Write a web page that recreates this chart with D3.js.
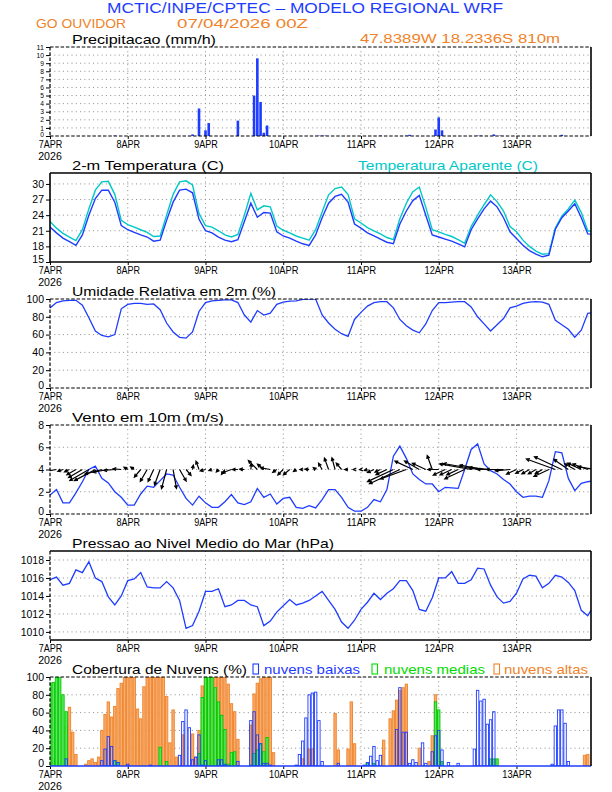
<!DOCTYPE html>
<html lang="pt">
<head>
<meta charset="utf-8">
<title>Meteograma WRF - GO Ouvidor</title>
<script src="https://cdn.jsdelivr.net/npm/d3@7"></script>
<style>
  body { margin: 0; background: #fff; }
  svg { display: block; }
  text { font-family: "Liberation Sans", Arial, sans-serif; }
</style>
</head>
<body>
<script>
// ---- dados (hora 0 = 07/04/2026 00Z) ------------------------------------------
const diasLabels = ["7APR", "8APR", "9APR", "10APR", "11APR", "12APR", "13APR"];
const diasHoras = [0, 24, 48, 72, 96, 120, 144];
const ano = "2026";

// series de linha, a cada 2 horas (0, 2, ..., 168)
const horas2 = d3.range(0, 169, 2);

const temp2m = [
  21.7, 20.6, 19.6, 18.9, 18.2, 20.2, 24.0, 27.2, 28.8, 28.8, 26.5, 22.0,
  21.2, 20.7, 20.2, 19.8, 19.0, 19.2, 23.0, 26.5, 28.8, 29.0, 28.3, 23.2,
  21.0, 20.6, 19.8, 19.2, 18.9, 19.3, 22.8, 26.3, 23.6, 24.5, 24.4, 20.8,
  20.0, 19.6, 19.0, 18.5, 18.2, 20.2, 23.5, 26.3, 27.6, 28.0, 26.5, 22.3,
  21.5, 20.6, 20.0, 19.4, 18.8, 18.5, 22.3, 24.8, 26.8, 27.8, 24.0, 20.2,
  19.8, 19.4, 19.0, 18.5, 17.9, 21.2, 23.3, 25.2, 26.7, 25.6, 23.5, 20.8,
  19.5, 18.2, 17.2, 16.5, 16.0, 16.3, 21.3, 23.5, 24.8, 26.2, 23.5, 20.4,
  20.3
];
const tempAparente = [
  22.8, 21.5, 20.5, 19.8, 19.1, 21.2, 25.2, 28.8, 30.4, 30.5, 28.0, 23.0,
  22.2, 21.7, 21.2, 20.7, 19.9, 20.0, 24.0, 28.0, 30.4, 30.6, 29.8, 24.3,
  22.0, 21.7, 21.0, 20.2, 19.8, 20.3, 24.0, 28.2, 25.0, 25.8, 25.6, 21.9,
  21.1, 20.6, 20.0, 19.6, 19.2, 21.2, 24.6, 27.9, 29.1, 29.4, 28.0, 23.3,
  22.5, 21.6, 21.0, 20.4, 19.7, 19.3, 23.3, 26.3, 28.5, 29.4, 25.5, 21.2,
  20.8, 20.3, 19.9, 19.3, 18.6, 21.8, 24.0, 26.0, 27.9, 26.6, 24.8, 21.8,
  20.8, 19.2, 18.0, 17.1, 16.5, 16.6, 21.6, 23.8, 25.2, 26.9, 24.5, 21.0,
  20.8
];
const umidade = [
  90, 96, 98, 98.5, 98.5, 93, 79, 64, 59, 57.5, 60, 89,
  94, 95, 95, 94, 94.5, 88, 73, 63, 57, 56, 63, 86,
  96, 98, 98.5, 99, 99, 96, 82, 74, 87, 82, 84, 94,
  96.5, 97.5, 98, 99.5, 100, 100, 82, 73, 66, 61, 58, 77,
  85, 92, 96, 97, 97, 90, 77, 70, 65, 62, 72, 87,
  96, 96, 96.5, 97, 97, 91, 80, 72, 64, 71, 78, 90,
  92, 95, 96.5, 97, 96.5, 94, 76, 71, 66, 57, 65, 84,
  85
];
const ventoVel = [
  1.7, 2.2, 1.0, 1.0, 1.9, 2.9, 4.0, 4.3, 3.2, 2.8, 2.0, 1.5,
  0.8, 0.8, 1.8, 2.5, 2.4, 3.0, 3.6, 3.5, 2.4, 1.4, 0.8, 1.6,
  1.0, 0.6, 0.6, 1.1, 1.75, 1.0, 0.85, 1.1, 2.3, 1.5, 1.8, 0.9,
  1.4, 1.5, 0.6, 0.5, 0.75, 0.55, 1.3, 2.2, 2.2, 1.5, 0.6, 0.25,
  0.25, 0.6, 1.3, 1.1, 2.2, 5.2, 6.1, 5.0, 3.6, 3.1, 2.7, 2.7,
  2.0, 2.4, 2.35, 2.3, 4.0, 5.8, 6.3, 4.5, 3.9, 3.6, 3.1, 2.7,
  2.0, 1.5, 1.6, 1.6, 1.5, 3.0, 5.6, 5.5, 3.2, 2.1, 2.75, 2.9,
  3.0
];
// direcao de onde sopra (graus)
const ventoDir = [
  80, 80, 70, 65, 60, 60, 60, 62, 75, 80, 85, 95,
  120, 125, 40, 30, 25, 20, 15, 350, 330, 320, 190, 160,
  75, 70, 40, 35, 70, 90, 95, 185, 135, 130, 100, 55,
  45, 50, 55, 90, 95, 130, 150, 160, 165, 140, 90, 90,
  85, 70, 65, 65, 65, 65, 65, 70, 115, 120, 115, 160,
  90, 65, 65, 65, 65, 100, 100, 100, 95, 90, 90, 85,
  65, 62, 60, 60, 60, 65, 110, 115, 125, 120, 115, 110,
  100
];
const pressao = [
  1015.8, 1016.1, 1015.2, 1015.4, 1016.9, 1016.6, 1017.8, 1016.0, 1015.6, 1013.9, 1013.0, 1014.0,
  1015.7, 1015.9, 1016.6, 1015.0, 1014.9, 1014.9, 1015.6, 1014.9, 1013.5, 1010.4, 1010.7, 1012.3,
  1014.5, 1014.5, 1014.8, 1012.8, 1013.0, 1013.5, 1013.5, 1013.0, 1012.8, 1010.7, 1011.2, 1012.2,
  1012.9, 1013.6, 1013.0, 1013.2, 1013.5, 1014.0, 1014.5, 1013.5, 1012.5, 1011.1, 1010.4, 1011.3,
  1012.5, 1013.3, 1014.3, 1013.6, 1014.3, 1014.8, 1015.7, 1015.7, 1014.6, 1012.5, 1012.3, 1013.8,
  1016.0, 1016.0, 1016.7, 1015.4, 1015.4, 1015.8, 1017.1, 1017.0, 1015.2, 1013.9, 1013.2, 1013.4,
  1014.3, 1015.9, 1016.3, 1016.2, 1014.9, 1015.4, 1016.3, 1016.1, 1015.5, 1014.6, 1012.4, 1011.8,
  1013.0
];

// series de barras, horarias (0 ... 167)
const horas1 = d3.range(0, 168);
const precip = [
  0, 0, 0, 0, 0, 0, 0, 0, 0, 0, 0, 0, 0, 0, 0, 0, 0, 0, 0, 0, 0.05, 0, 0, 0,
  0, 0, 0, 0, 0, 0, 0, 0, 0, 0, 0, 0, 0, 0, 0, 0, 0, 0, 0, 0, 0.2, 0, 3.4, 0,
  0.7, 1.6, 0, 0, 0, 0, 0, 0, 0, 0, 1.9, 0, 0, 0, 0, 5.0, 9.6, 4.2, 0.4, 1.3, 0, 0, 0, 0,
  0, 0, 0, 0, 0, 0, 0, 0, 0, 0, 0, 0.05, 0.05, 0.05, 0, 0, 0, 0, 0, 0, 0, 0, 0, 0,
  0, 0, 0, 0, 0, 0, 0.05, 0, 0, 0, 0, 0, 0, 0, 0.05, 0.15, 0, 0, 0, 0, 0, 0, 0, 0.8,
  2.3, 0.7, 0, 0, 0, 0, 0, 0, 0, 0, 0, 0, 0.05, 0.05, 0, 0, 0, 0.2, 0, 0.05, 0, 0, 0, 0,
  0, 0, 0, 0, 0, 0, 0, 0, 0, 0, 0, 0, 0, 0, 0.15, 0, 0, 0, 0, 0, 0, 0, 0, 0
];
const nuvensBaixas = [
  0, 0, 0, 0, 0, 8, 0, 0, 0, 0, 0, 0, 0, 0, 0, 0, 6, 19, 33, 22, 6, 4, 0, 0,
  2, 0, 0, 0, 0, 0, 0, 1, 0, 0, 0, 0, 0, 0, 0, 0, 12, 50, 63, 43, 7, 10, 35, 1,
  6, 0, 0, 0, 7, 7, 2, 0, 0, 0, 5, 0, 0, 0, 51, 61, 35, 25, 3, 3, 1, 0, 0, 0,
  0, 0, 0, 0, 1, 13, 28, 54, 80, 82, 83, 51, 5, 0, 0, 0, 0, 3, 0, 0, 0, 0, 0, 0,
  0, 1, 4, 11, 22, 6, 12, 0, 0, 0, 0, 41, 88, 38, 38, 3, 7, 4, 0, 26, 3, 0, 16, 34,
  40, 18, 0, 4, 0, 0, 3, 0, 0, 0, 0, 19, 85, 73, 75, 47, 52, 61, 0, 0, 0, 0, 0, 0,
  0, 0, 0, 0, 0, 0, 0, 0, 0, 0, 0, 2, 45, 63, 63, 48, 5, 0, 0, 0, 0, 0, 0, 0
];
const nuvensMedias = [
  93, 94, 100, 100, 80, 61, 0, 0, 0, 0, 0, 0, 0, 0, 0, 0, 0, 0, 0, 0, 6, 4, 0, 0,
  0, 0, 0, 0, 0, 0, 0, 0, 0, 0, 21, 0, 5, 0, 0, 0, 0, 0, 0, 0, 0, 0, 14, 77,
  100, 100, 100, 88, 72, 57, 41, 2, 15, 16, 0, 0, 0, 0, 1, 14, 18, 25, 16, 32, 0, 0, 0, 0,
  0, 0, 0, 0, 0, 0, 0, 0, 0, 0, 0, 0, 0, 0, 0, 0, 0, 0, 0, 0, 0, 0, 0, 0,
  0, 0, 3, 0, 3, 0, 0, 0, 0, 0, 0, 0, 0, 0, 0, 0, 0, 0, 0, 0, 0, 0, 0, 72,
  63, 5, 0, 0, 0, 0, 0, 0, 0, 0, 0, 0, 0, 0, 0, 0, 8, 8, 8, 0, 0, 0, 0, 0,
  0, 0, 0, 0, 0, 0, 0, 0, 0, 0, 0, 0, 0, 0, 0, 0, 0, 0, 0, 0, 0, 0, 0, 0
];
const nuvensAltas = [
  0, 9, 0, 0, 0, 45, 66, 38, 13, 0, 0, 2, 6, 8, 4, 10, 40, 58, 72, 55, 67, 87, 93, 100,
  100, 100, 100, 64, 53, 89, 100, 100, 100, 100, 100, 100, 78, 26, 63, 10, 0, 35, 0, 0, 36, 10, 40, 90,
  100, 100, 100, 100, 100, 100, 100, 92, 70, 61, 30, 0, 0, 0, 46, 81, 93, 98, 100, 100, 100, 15, 0, 0,
  0, 0, 0, 0, 0, 0, 8, 0, 19, 19, 0, 0, 0, 0, 0, 0, 59, 18, 0, 0, 19, 72, 25, 0,
  0, 0, 0, 0, 0, 0, 0, 29, 0, 53, 62, 74, 85, 88, 92, 0, 0, 0, 20, 0, 0, 5, 34, 80,
  0, 0, 0, 0, 0, 0, 0, 0, 0, 0, 0, 0, 0, 0, 0, 0, 0, 0, 0, 0, 0, 0, 0, 0,
  0, 0, 0, 0, 0, 0, 0, 0, 0, 0, 0, 0, 0, 0, 0, 0, 0, 0, 0, 0, 0, 12, 13, 0
];

// ---- layout -------------------------------------------------------------------
const W = 612, H = 792;
const xL = 50, xR = 591, pH = 89;
const azul = "#1e3cff", ciano = "#00c8c8", verde = "#00dc00", laranja = "#f08228";

const svg = d3.select("body").append("svg").attr("width", W).attr("height", H);
const x = d3.scaleLinear().domain([0, 167]).range([xL, xR]);

function txt(s, px, py, size, color, len, anchor) {
  const t = svg.append("text").text(s)
    .attr("x", px).attr("y", py)
    .attr("font-size", size).attr("fill", color)
    .attr("text-anchor", anchor || "start");
  if (len) t.attr("textLength", len).attr("lengthAdjust", "spacingAndGlyphs");
  return t;
}

// cabecalho
txt("MCTIC/INPE/CPTEC \u2013 MODELO REGIONAL WRF", 305, 13, 14.5, azul, 396, "middle");
txt("GO OUVIDOR", 36, 28, 13.5, laranja, 90);
txt("07/04/2026 00Z", 177, 28, 13.5, laranja, 131);
txt("47.8389W 18.2336S 810m", 360, 43, 13.5, laranja, 200);

let clipN = 0;
// monta um painel: grade, eixos, moldura; devolve escala y e grupo de dados
function painel(top, domain, ticks, titulo, tituloLen, frame, labelSize) {
  const y = d3.scaleLinear().domain(domain).range([top + pH, top]);
  const g = svg.append("g");
  const ls = labelSize || 11;

  // grade pontilhada
  g.selectAll(".gy").data(ticks.filter(v => v > domain[0] && v < domain[1]))
    .enter().append("line")
    .attr("x1", xL).attr("x2", xR)
    .attr("y1", d => y(d)).attr("y2", d => y(d))
    .attr("stroke", "#8c8c8c").attr("stroke-dasharray", "1,3.3");
  g.selectAll(".gx").data(diasHoras.slice(1))
    .enter().append("line")
    .attr("x1", d => x(d)).attr("x2", d => x(d))
    .attr("y1", top).attr("y2", top + pH)
    .attr("stroke", "#8c8c8c").attr("stroke-dasharray", "1,3.3");

  // eixo y (o rotulo do fundo sobe um pouco para nao encostar no da data)
  const ay = svg.append("g").attr("transform", `translate(${xL},0)`)
    .call(d3.axisLeft(y).tickValues(ticks).tickSize(4).tickPadding(2).tickFormat(d3.format("d")));
  ay.select(".domain").remove();
  ay.attr("font-family", null).attr("font-size", null);
  ay.selectAll("text").attr("font-size", ls).attr("fill", "#000")
    .attr("dy", d => y(d) > top + pH - 1 ? "0.02em" : "0.3em")
    .attr("textLength", d => String(d).length * ls * 0.53).attr("lengthAdjust", "spacingAndGlyphs");
  ay.selectAll("line").attr("stroke", "#000");

  // eixo x
  const ax = svg.append("g").attr("transform", `translate(0,${top + pH})`)
    .call(d3.axisBottom(x).tickValues(diasHoras).tickSize(3).tickPadding(1.5)
      .tickFormat((d, i) => diasLabels[i]));
  ax.select(".domain").remove();
  ax.attr("font-family", null).attr("font-size", null);
  ax.selectAll("text").attr("font-size", 11).attr("fill", "#000")
    .attr("textLength", (d, i) => diasLabels[i].length * 5.9).attr("lengthAdjust", "spacingAndGlyphs");
  ax.selectAll("line").attr("stroke", "#000");
  txt(ano, xL, top + pH + 24, 10.5, "#000", 23.6, "middle");

  // titulo
  txt(titulo, 72, top - 3, 13.5, "#000", tituloLen);

  // area de recorte
  const id = "clip" + (clipN++);
  svg.append("clipPath").attr("id", id).append("rect")
    .attr("x", xL).attr("y", top).attr("width", xR - xL).attr("height", pH);
  const dados = svg.append("g").attr("clip-path", `url(#${id})`);

  // moldura (desenhada depois dos dados)
  const moldura = () => {
    const lados = [
      ["top", xL, top, xR, top], ["bottom", xL, top + pH, xR, top + pH],
      ["left", xL, top, xL, top + pH], ["right", xR, top, xR, top + pH]
    ];
    lados.forEach(([k, x1, y1, x2, y2]) => {
      svg.append("line").attr("x1", x1).attr("y1", y1).attr("x2", x2).attr("y2", y2)
        .attr("stroke", frame[k] === "blue" ? azul : "#000")
        .attr("stroke-width", frame[k] === "dash" ? 1.2 : 1.6)
        .attr("stroke-dasharray", frame[k] === "dash" ? "3.5,1.8" : null);
    });
  };
  return { y, dados, moldura };
}

const linha = (y, vals) => d3.line().x((d, i) => x(horas2[i])).y(d => y(d))(vals);
// pares (hora, valor) so com valores > 0, para as barras
const pares = vals => vals.map((v, i) => ({ t: horas1[i], v })).filter(d => d.v > 0);

// ---- 1. precipitacao ---------------------------------------------------------
{
  const p = painel(47, [0, 11], d3.range(0, 12), "Precipitacao (mm/h)", 144,
    { top: "dash", bottom: "dash", left: "dash", right: "solid" }, 7);
  p.dados.selectAll("rect").data(pares(precip)).enter().append("rect")
    .attr("x", d => x(d.t) - 1.3).attr("width", 2.6)
    .attr("y", d => p.y(d.v)).attr("height", d => Math.max(p.y(0) - p.y(d.v), 0.8))
    .attr("fill", azul);
  p.moldura();
}

// ---- 2. temperatura ----------------------------------------------------------
{
  const p = painel(173, [15, 32.1], [15, 18, 21, 24, 27, 30], "2-m Temperatura (C)", 152,
    { top: "solid", bottom: "solid", left: "solid", right: "solid" });
  txt("Temperatura Aparente (C)", 358, 170, 13.5, ciano, 180);
  p.dados.append("path").attr("d", linha(p.y, tempAparente))
    .attr("fill", "none").attr("stroke", ciano).attr("stroke-width", 1.4);
  p.dados.append("path").attr("d", linha(p.y, temp2m))
    .attr("fill", "none").attr("stroke", azul).attr("stroke-width", 1.4);
  p.moldura();
}

// ---- 3. umidade --------------------------------------------------------------
{
  const p = painel(299, [0, 100], [0, 20, 40, 60, 80, 100], "Umidade Relativa em 2m (%)", 204,
    { top: "dash", bottom: "dash", left: "dash", right: "solid" });
  p.dados.append("path").attr("d", linha(p.y, umidade))
    .attr("fill", "none").attr("stroke", azul).attr("stroke-width", 1.3);
  p.moldura();
}

// ---- 4. vento ----------------------------------------------------------------
{
  const p = painel(425, [0, 8], [0, 2, 4, 6, 8], "Vento em 10m (m/s)", 152,
    { top: "dash", bottom: "dash", left: "dash", right: "solid" });
  p.dados.append("path").attr("d", linha(p.y, ventoVel))
    .attr("fill", "none").attr("stroke", azul).attr("stroke-width", 1.3);
  // setas: saem da linha y=4, comprimento proporcional a velocidade
  const k = 5.5, y0 = p.y(4);
  const setas = ventoVel.map((v, i) => {
    const a = ventoDir[i] * Math.PI / 180;
    const x0 = x(horas2[i]);
    const x1 = x0 - v * k * Math.sin(a), y1 = y0 + v * k * Math.cos(a);
    return { x0, x1, y1, ang: Math.atan2(y1 - y0, x1 - x0) };
  });
  const gs = p.dados.append("g").attr("stroke", "#000").attr("stroke-width", 1.2).attr("fill", "none");
  gs.selectAll("path").data(setas).enter().append("path")
    .attr("d", s => {
      const h = 3.5, b = 0.45;
      const hx1 = s.x1 - h * Math.cos(s.ang - b), hy1 = s.y1 - h * Math.sin(s.ang - b);
      const hx2 = s.x1 - h * Math.cos(s.ang + b), hy2 = s.y1 - h * Math.sin(s.ang + b);
      return `M${s.x0},${y0}L${s.x1},${s.y1}M${hx1},${hy1}L${s.x1},${s.y1}L${hx2},${hy2}`;
    });
  p.moldura();
}

// ---- 5. pressao --------------------------------------------------------------
{
  const p = painel(551, [1009.1, 1019], [1010, 1012, 1014, 1016, 1018],
    "Pressao ao Nivel Medio do Mar (hPa)", 262,
    { top: "solid", bottom: "solid", left: "dash", right: "solid" });
  p.dados.append("path").attr("d", linha(p.y, pressao))
    .attr("fill", "none").attr("stroke", azul).attr("stroke-width", 1.3);
  p.moldura();
}

// ---- 6. nuvens ---------------------------------------------------------------
{
  const top = 677;
  const p = painel(top, [0, 100], [0, 20, 40, 60, 80, 100], "Cobertura de Nuvens (%)", 175,
    { top: "dash", bottom: "blue", left: "dash", right: "solid" });
  const barras = (vals, stroke, fill) => {
    p.dados.append("g").selectAll("rect").data(pares(vals)).enter().append("rect")
      .attr("x", d => x(d.t) - 1.2).attr("width", 2.4)
      .attr("y", d => p.y(d.v)).attr("height", d => p.y(0) - p.y(d.v))
      .attr("fill", fill).attr("stroke", stroke).attr("stroke-width", 0.9);
  };
  barras(nuvensAltas, laranja, "#f6ad6e");
  barras(nuvensMedias, "#00c800", "#5fe85f");
  barras(nuvensBaixas, azul, "none");

  // legenda
  const leg = [
    [253, 264, "nuvens baixas", 96, azul],
    [372, 384, "nuvens medias", 101, verde],
    [494, 504, "nuvens altas", 84, laranja]
  ];
  leg.forEach(([bx, tx, s, len, c]) => {
    svg.append("rect").attr("x", bx).attr("y", top - 13).attr("width", 5.5).attr("height", 10)
      .attr("fill", "none").attr("stroke", c).attr("stroke-width", 1.1);
    txt(s, tx, top - 3, 13.5, c, len);
  });
  p.moldura();
}
</script>
</body>
</html>
